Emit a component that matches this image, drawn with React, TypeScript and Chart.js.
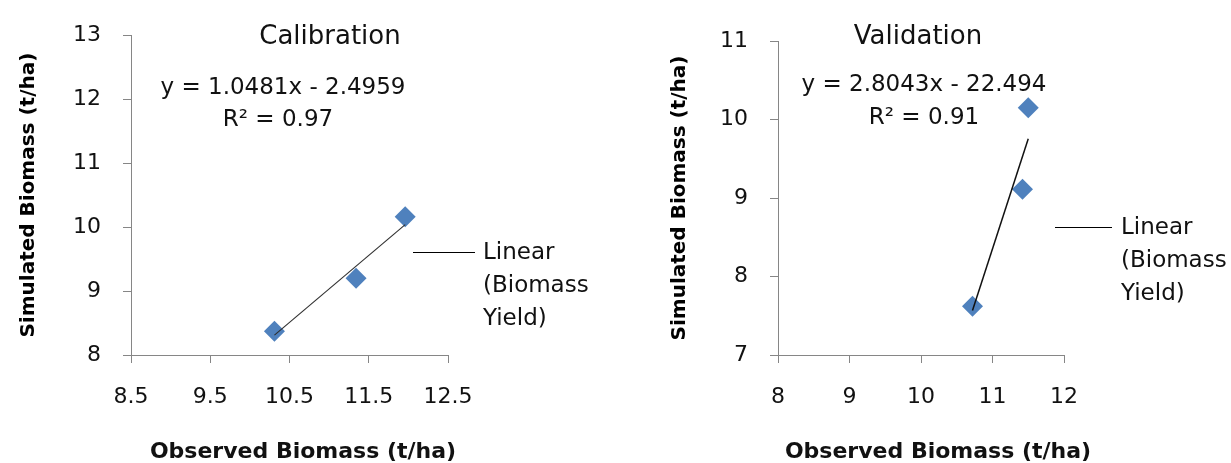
import React, { useEffect, useRef } from 'react';
import { Chart, registerables } from 'chart.js';

Chart.register(...registerables);

const FONT = "'DejaVu Sans', sans-serif";
const AXIS_COLOR = '#868686';
const TEXT_COLOR = '#111111';
const MARKER_COLOR = '#4F81BD';

// ---- Calibration data ----
const calObserved = [10.31, 11.34, 11.96];
const calSimulated = [8.37, 9.2, 10.16];
const calFit = [1.0481, -2.4959]; // slope, intercept
const calXTicks = [8.5, 9.5, 10.5, 11.5, 12.5];
const calYTicks = [8, 9, 10, 11, 12, 13];
const calTitle = 'Calibration';
const calEquation = 'y = 1.0481x - 2.4959';
const calR2 = 'R² = 0.97';

// ---- Validation data ----
const valObserved = [10.72, 11.42, 11.5];
const valSimulated = [7.62, 9.11, 10.15];
const valFit = [2.8043, -22.494];
const valXTicks = [8, 9, 10, 11, 12];
const valYTicks = [7, 8, 9, 10, 11];
const valTitle = 'Validation';
const valEquation = 'y = 2.8043x - 22.494';
const valR2 = 'R² = 0.91';

const legendLines = ['Linear', '(Biomass', 'Yield)'];
const xAxisTitle = 'Observed Biomass (t/ha)';
const yAxisTitle = 'Simulated Biomass (t/ha)';

const H = 463;

type Panel = {
  left: number;
  width: number;
  obs: number[];
  sim: number[];
  fit: number[];
  xTicks: number[];
  yTicks: number[];
  title: string;
  eq: string;
  r2: string;
  area: { left: number; right: number; top: number; bottom: number };
  titlePos: [number, number];
  eqPos: [number, number];
  r2Pos: [number, number];
  legendLine: [number, number, number];
  legendText: [number, number, number];
  xTitlePos: [number, number];
  yTitleOffset: number;
  trendWidth: number;
  trendColor: string;
};

const panels: Panel[] = [
  {
    left: 0,
    width: 620,
    obs: calObserved,
    sim: calSimulated,
    fit: calFit,
    xTicks: calXTicks,
    yTicks: calYTicks,
    title: calTitle,
    eq: calEquation,
    r2: calR2,
    area: { left: 131, right: 448, top: 23, bottom: 355 },
    titlePos: [330, 37],
    eqPos: [283, 88],
    r2Pos: [278, 120],
    legendLine: [413, 475, 252],
    legendText: [483, 253, 33],
    xTitlePos: [303, 452],
    yTitleOffset: 29,
    trendWidth: 1.1,
    trendColor: '#2e2e2e',
  },
  {
    left: 620,
    width: 611,
    obs: valObserved,
    sim: valSimulated,
    fit: valFit,
    xTicks: valXTicks,
    yTicks: valYTicks,
    title: valTitle,
    eq: valEquation,
    r2: valR2,
    area: { left: 158, right: 444, top: 41, bottom: 355 },
    titlePos: [298, 37],
    eqPos: [304, 85],
    r2Pos: [304, 118],
    legendLine: [435, 492, 227],
    legendText: [501, 228, 33],
    xTitlePos: [318, 452],
    yTitleOffset: 60,
    trendWidth: 1.5,
    trendColor: '#111111',
  },
];

function makeTextPlugin(p: Panel) {
  return {
    id: 'panelText',
    afterDraw(chart: any) {
      const ctx = chart.ctx as CanvasRenderingContext2D;
      ctx.save();
      ctx.fillStyle = TEXT_COLOR;
      ctx.textBaseline = 'middle';
      ctx.textAlign = 'center';
      ctx.font = `26px ${FONT}`;
      ctx.fillText(p.title, p.titlePos[0], p.titlePos[1]);
      ctx.font = `23px ${FONT}`;
      ctx.fillText(p.eq, p.eqPos[0], p.eqPos[1]);
      ctx.fillText(p.r2, p.r2Pos[0], p.r2Pos[1]);
      ctx.font = `bold 22px ${FONT}`;
      ctx.fillText(xAxisTitle, p.xTitlePos[0], p.xTitlePos[1]);
      // legend
      ctx.strokeStyle = '#000000';
      ctx.lineWidth = 1;
      ctx.beginPath();
      ctx.moveTo(p.legendLine[0], p.legendLine[2] + 0.5);
      ctx.lineTo(p.legendLine[1], p.legendLine[2] + 0.5);
      ctx.stroke();
      ctx.textAlign = 'left';
      ctx.font = `23px ${FONT}`;
      legendLines.forEach((t, i) => {
        ctx.fillText(t, p.legendText[0], p.legendText[1] + i * p.legendText[2]);
      });
      ctx.restore();
    },
  };
}

function PanelChart({ p }: { p: Panel }) {
  const ref = useRef<HTMLCanvasElement | null>(null);
  useEffect(() => {
    if (!ref.current) return;
    const xs = p.obs;
    const minX = Math.min(...xs);
    const maxX = Math.max(...xs);
    const trend = [minX, maxX].map((x) => ({ x, y: p.fit[0] * x + p.fit[1] }));
    const points = p.obs.map((x, i) => ({ x, y: p.sim[i] }));
    const chart = new Chart(ref.current, {
      type: 'scatter',
      data: {
        datasets: [
          {
            type: 'line',
            label: 'Linear (Biomass Yield)',
            data: trend,
            borderColor: p.trendColor,
            borderWidth: p.trendWidth,
            pointRadius: 0,
            fill: false,
            order: 0,
          } as any,
          {
            label: 'Biomass Yield',
            data: points,
            pointStyle: 'rectRot',
            pointRadius: 10.5,
            pointBackgroundColor: MARKER_COLOR,
            pointBorderColor: MARKER_COLOR,
            pointBorderWidth: 0,
            order: 1,
          },
        ],
      },
      options: {
        responsive: false,
        animation: false,
        layout: {
          padding: {
            left: 0,
            top: p.area.top,
            right: p.width - p.area.right,
            bottom: 0,
          },
        },
        plugins: {
          legend: { display: false },
          tooltip: { enabled: false },
          title: { display: false },
        },
        scales: {
          x: {
            type: 'linear',
            position: 'bottom',
            min: p.xTicks[0],
            max: p.xTicks[p.xTicks.length - 1],
            afterBuildTicks: (s: any) => {
              s.ticks = p.xTicks.map((v) => ({ value: v }));
            },
            afterFit: (s: any) => {
              s.height = H - p.area.bottom;
            },
            grid: {
              display: true,
              drawOnChartArea: false,
              drawTicks: true,
              tickLength: 8,
              color: AXIS_COLOR,
            },
            border: { display: true, color: AXIS_COLOR, width: 1 },
            ticks: {
              font: { family: FONT, size: 22 },
              color: TEXT_COLOR,
              padding: 21,
              maxRotation: 0,
              autoSkip: false,
              callback: (v: any) => String(v),
            },
          },
          y: {
            type: 'linear',
            position: 'left',
            min: p.yTicks[0],
            max: p.yTicks[p.yTicks.length - 1],
            afterBuildTicks: (s: any) => {
              s.ticks = p.yTicks.map((v) => ({ value: v }));
            },
            afterFit: (s: any) => {
              s.width = p.area.left;
            },
            grid: {
              display: true,
              drawOnChartArea: false,
              drawTicks: true,
              tickLength: 8,
              color: AXIS_COLOR,
            },
            border: { display: true, color: AXIS_COLOR, width: 1 },
            ticks: {
              font: { family: FONT, size: 22 },
              color: TEXT_COLOR,
              padding: 22,
              autoSkip: false,
              callback: (v: any) => String(v),
            },
            title: {
              display: true,
              text: yAxisTitle,
              color: '#000000',
              font: { family: FONT, size: 20, weight: 'bold' },
              padding: { top: p.yTitleOffset - 12, bottom: 0 },
            },
          },
        },
      } as any,
      plugins: [makeTextPlugin(p)],
    });
    return () => chart.destroy();
  }, [p]);
  return (
    <canvas
      ref={ref}
      width={p.width}
      height={H}
      style={{
        position: 'absolute',
        left: p.left,
        top: 0,
        width: p.width,
        height: H,
      }}
    />
  );
}

export default function App() {
  return (
    <div
      style={{
        position: 'absolute',
        left: 0,
        top: 0,
        width: 1231,
        height: H,
        background: '#ffffff',
        overflow: 'hidden',
      }}
    >
      {panels.map((p, i) => (
        <PanelChart key={i} p={p} />
      ))}
    </div>
  );
}
